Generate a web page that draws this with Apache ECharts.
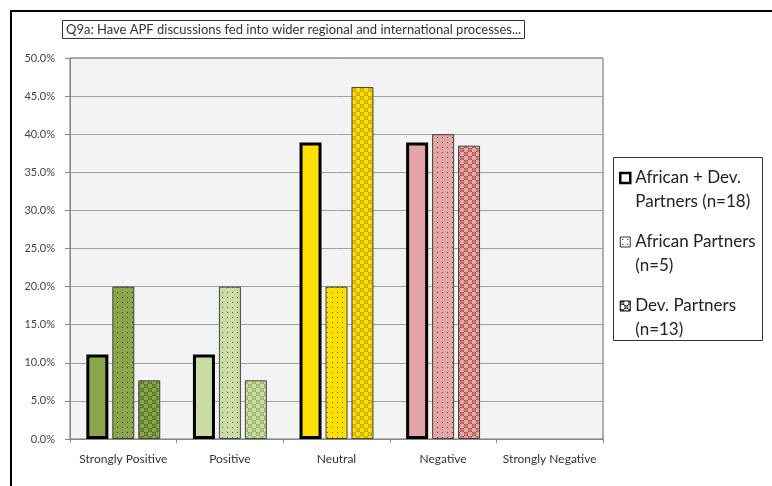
<!DOCTYPE html>
<html>
<head>
<meta charset="utf-8">
<script src="https://cdn.jsdelivr.net/npm/echarts@6/dist/echarts.min.js"></script>
<style>
html,body{margin:0;padding:0;background:#fff;}
#chart{width:772px;height:486px;}
</style>
</head>
<body>
<div id="chart"></div>
<script>
const categories = ['Strongly Positive', 'Positive', 'Neutral', 'Negative', 'Strongly Negative'];
const seriesNames = ['African + Dev. Partners (n=18)', 'African Partners (n=5)', 'Dev. Partners (n=13)'];
const legendLines = [['African + Dev.', 'Partners (n=18)'], ['African Partners', '(n=5)'], ['Dev. Partners', '(n=13)']];
const combinedValues = [0.111, 0.111, 0.389, 0.389, 0];
const africanValues = [0.200, 0.200, 0.200, 0.400, 0];
const devValues = [0.077, 0.077, 0.462, 0.385, 0];
const yTicks = [0, 0.05, 0.10, 0.15, 0.20, 0.25, 0.30, 0.35, 0.40, 0.45, 0.50];
const titleText = 'Q9a: Have APF discussions fed into wider regional and international processes...';

// styling
const baseColors = ['#8aa64a', '#c9dca6', '#ffdf00', '#e3a5a5', '#cccccc'];
const darkColors = ['#4f6d20', '#8fae58', '#bf9a00', '#b04a47', '#888888'];

function dotPattern(base, dot) {
  const c = document.createElement('canvas');
  c.width = c.height = 5;
  const g = c.getContext('2d');
  g.fillStyle = base; g.fillRect(0, 0, 5, 5);
  g.fillStyle = dot; g.fillRect(2, 2, 1, 1);
  return { image: c, repeat: 'repeat' };
}
function checkerPattern(base, dark) {
  const c = document.createElement('canvas');
  c.width = c.height = 8;
  const g = c.getContext('2d');
  g.fillStyle = base; g.fillRect(0, 0, 8, 8);
  g.fillStyle = dark; g.fillRect(0, 0, 4, 4); g.fillRect(4, 4, 4, 4);
  g.strokeStyle = base; g.lineWidth = 0.8;
  g.beginPath(); g.arc(2, 2, 1.2, 0, Math.PI * 2); g.stroke();
  g.beginPath(); g.arc(6, 6, 1.2, 0, Math.PI * 2); g.stroke();
  return { image: c, repeat: 'repeat' };
}

function buildData(values, kind) {
  return values.map((v, i) => {
    let style;
    if (kind === 0) style = { color: baseColors[i], borderColor: '#000', borderWidth: v ? 3 : 0 };
    else if (kind === 1) style = { color: dotPattern(baseColors[i], 'rgba(0,0,0,0.55)'), borderColor: '#444', borderWidth: v ? 1 : 0 };
    else style = { color: checkerPattern(baseColors[i], darkColors[i]), borderColor: '#444', borderWidth: v ? 1 : 0 };
    return { value: v, itemStyle: style };
  });
}

const chart = echarts.init(document.getElementById('chart'), null, { renderer: 'canvas' });
const FONT = 'Lato, "Open Sans", sans-serif';

const legendIconStyles = [
  { color: '#fff', borderColor: '#000', borderWidth: 2.5 },
  { color: dotPattern('#fff', '#000'), borderColor: '#333', borderWidth: 1 },
  { color: checkerPattern('#fff', '#000'), borderColor: '#000', borderWidth: 1 }
];

const option = {
  backgroundColor: '#fff',
  animation: false,
  textStyle: { fontFamily: FONT },
  title: {
    text: titleText,
    left: 62, top: 20,
    padding: [3, 4, 3, 4],
    borderColor: '#333', borderWidth: 1,
    textStyle: { fontSize: 13, fontWeight: 'normal', color: '#333', fontFamily: FONT }
  },
  graphic: [
    { type: 'line', shape: { x1: 10, y1: 11, x2: 772, y2: 11 }, style: { stroke: '#000', lineWidth: 2 }, z: 10 },
    { type: 'line', shape: { x1: 11, y1: 10, x2: 11, y2: 486 }, style: { stroke: '#000', lineWidth: 2 }, z: 10 },
    { type: 'rect', shape: { x: 613.5, y: 157.5, width: 149, height: 183 }, style: { fill: '#fff', stroke: '#333', lineWidth: 1 }, z: 0 }
  ],
  legend: {
    orient: 'vertical',
    left: 619, top: 142,
    padding: 0,
    icon: 'rect',
    itemWidth: 10, itemHeight: 10,
    itemGap: -8,
    data: seriesNames.map((n, i) => ({ name: n, itemStyle: legendIconStyles[i] })),
    formatter: name => '\n' + legendLines[seriesNames.indexOf(name)].join('\n'),
    textStyle: { fontSize: 17, lineHeight: 24, color: '#222', fontFamily: FONT, padding: [0, 0, 0, 0] },
    z: 5
  },
  grid: {
    left: 70, right: 169, top: 58, bottom: 47,
    show: true, backgroundColor: '#f3f3f3', borderColor: '#666', borderWidth: 1
  },
  xAxis: {
    type: 'category',
    data: categories,
    axisLine: { lineStyle: { color: '#888', width: 1 } },
    axisTick: { show: true, length: 4, lineStyle: { color: '#888' } },
    axisLabel: { interval: 0, fontSize: 12, color: '#333', margin: 14, fontFamily: FONT }
  },
  yAxis: {
    type: 'value',
    min: yTicks[0], max: yTicks[yTicks.length - 1], interval: 0.05,
    axisLine: { show: true, lineStyle: { color: '#888', width: 1 } },
    axisTick: { show: true, length: 5, lineStyle: { color: '#888' } },
    axisLabel: { fontSize: 11, color: '#444', margin: 15, fontFamily: FONT, formatter: v => (v * 100).toFixed(1) + '%' },
    splitLine: { lineStyle: { color: '#a0a0a0', width: 1 } }
  },
  series: [
    { name: seriesNames[0], type: 'bar', data: buildData(combinedValues, 0), barWidth: 22, barGap: '18%' },
    { name: seriesNames[1], type: 'bar', data: buildData(africanValues, 1), barWidth: 22, barGap: '18%' },
    { name: seriesNames[2], type: 'bar', data: buildData(devValues, 2), barWidth: 22, barGap: '18%' }
  ]
};
chart.setOption(option);
</script>
</body>
</html>
